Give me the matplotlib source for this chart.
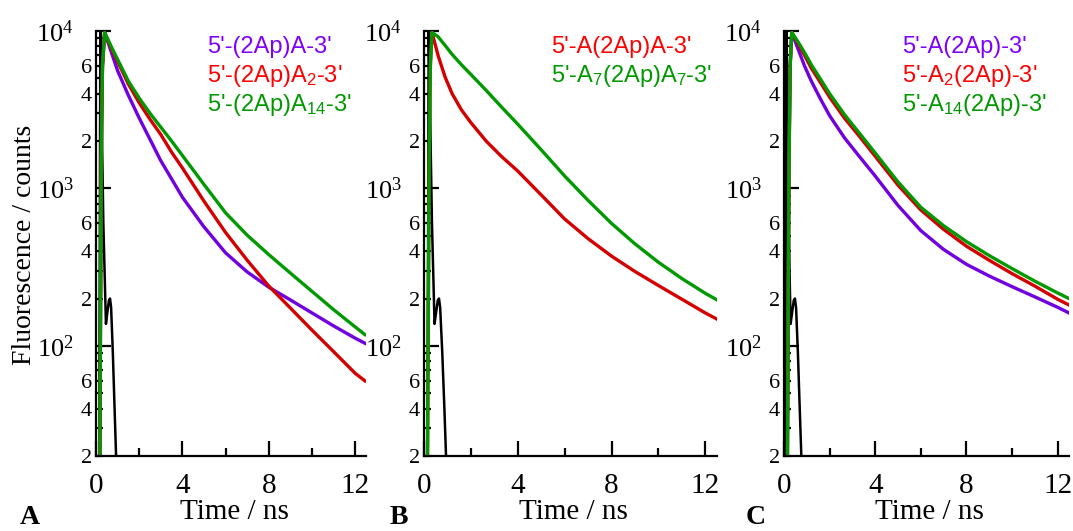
import numpy as np
import matplotlib.pyplot as plt
from matplotlib.ticker import FixedLocator, FixedFormatter

plt.rcParams['font.family'] = 'Liberation Serif'
plt.rcParams['mathtext.default'] = 'regular'

W, H = 1073, 531

# --- data (counts vs time in ns) ---
t_a = [0.18, 0.24, 0.3, 0.4, 0.7, 1.0, 1.5, 2, 2.5, 3, 3.5, 4, 5, 6, 7, 8, 9, 10, 11, 12, 12.45]
a_purple = [20, 1500, 6000, 9800, 7400, 5600, 3900, 2800, 2050, 1500, 1150, 880, 570, 390, 295, 236, 196, 162, 134, 112, 104]
a_red = [20, 1500, 6000, 9800, 7800, 6400, 4600, 3500, 2750, 2200, 1700, 1350, 830, 525, 350, 240, 174, 126, 92, 67, 60]
a_green = [20, 1500, 6000, 9800, 8000, 6600, 4800, 3750, 3000, 2450, 2000, 1620, 1060, 700, 505, 380, 290, 222, 170, 132, 118]

t_b = [0.15, 0.22, 0.27, 0.34, 0.6, 0.9, 1.2, 1.6, 2, 2.65, 3.3, 4, 5, 6, 7, 8, 9, 10, 11, 12, 12.5]
b_red = [20, 1500, 6000, 9800, 7000, 5100, 4000, 3150, 2620, 2000, 1600, 1290, 910, 640, 480, 372, 297, 242, 198, 162, 148]
b_green = [20, 1500, 6000, 9800, 9200, 8100, 7100, 6100, 5300, 4200, 3300, 2560, 1760, 1200, 840, 600, 445, 340, 268, 216, 196]

t_c = [0.15, 0.22, 0.27, 0.34, 0.6, 0.9, 1.2, 1.6, 2, 2.65, 3.3, 4, 5, 6, 7, 8, 9, 10, 11, 12, 12.5]
c_purple = [20, 1500, 6000, 9800, 7800, 6000, 4800, 3700, 2900, 2100, 1600, 1200, 780, 540, 410, 330, 278, 238, 205, 176, 162]
c_red = [20, 1500, 6000, 9800, 8400, 7000, 5800, 4700, 3800, 2800, 2150, 1600, 1050, 730, 550, 430, 350, 288, 240, 198, 182]
c_green = [20, 1500, 6000, 9800, 8600, 7300, 6100, 4950, 4000, 2950, 2250, 1680, 1100, 760, 580, 460, 375, 310, 258, 217, 200]

# instrument response
irf_v = [20, 10000, 3000, 600, 138, 165, 195, 200, 175, 90, 40, 20]
irf_t_a = [0.15, 0.2, 0.26, 0.34, 0.46, 0.53, 0.6, 0.65, 0.7, 0.78, 0.86, 0.93]
irf_t_b = [0.15, 0.2, 0.26, 0.34, 0.45, 0.52, 0.59, 0.64, 0.69, 0.78, 0.87, 0.94]
irf_t_c = [0.05, 0.1, 0.15, 0.2, 0.29, 0.36, 0.43, 0.48, 0.53, 0.61, 0.69, 0.76]

purple = '#7000e0'
red = '#d40000'
green = '#009a00'
txt_purple = '#7f00ff'
txt_red = '#ff0000'
txt_green = '#009900'

panels = [
    dict(box=(96, 270), irf=irf_t_a, t=t_a,
         series=[(a_purple, purple), (a_red, red), (a_green, green)],
         labels=[("5'-(2Ap)A-3'", txt_purple),
                 ("5'-(2Ap)A$_{2}$-3'", txt_red),
                 ("5'-(2Ap)A$_{14}$-3'", txt_green)],
         lx=207, letter='A', lpos=20),
    dict(box=(424, 293), irf=irf_t_b, t=t_b,
         series=[(b_red, red), (b_green, green)],
         labels=[("5'-A(2Ap)A-3'", txt_red),
                 ("5'-A$_{7}$(2Ap)A$_{7}$-3'", txt_green)],
         lx=551, letter='B', lpos=390),
    dict(box=(784, 285), irf=irf_t_c, t=t_c,
         series=[(c_purple, purple), (c_red, red), (c_green, green)],
         labels=[("5'-A(2Ap)-3'", txt_purple),
                 ("5'-A$_{2}$(2Ap)-3'", txt_red),
                 ("5'-A$_{14}$(2Ap)-3'", txt_green)],
         lx=902, letter='C', lpos=746),
]

fig = plt.figure(figsize=(W / 100, H / 100), dpi=100)
top, bot = 31, 456

major_y = [100, 1000, 10000]
major_lab = ['$10^{2}$', '$10^{3}$', '$10^{4}$']
minor_y = [m * d for d in (10, 100, 1000) for m in range(2, 10)]
minor_lab = [str(m) if m in (2, 4, 6) else '' for d in (10, 100, 1000) for m in range(2, 10)]

for i, p in enumerate(panels):
    x0, w = p['box']
    ax = fig.add_axes([x0 / W, 1 - bot / H, w / W, (bot - top) / H])
    ax.plot(p['irf'], irf_v, color='black', lw=1.8)
    for vals, col in p['series']:
        ax.plot(p['t'], vals, color=col, lw=2.4)
    ax.set_yscale('log')
    ax.set_ylim(20, 10000)
    ax.set_xlim(0, 12.5)
    for s in ('top', 'right'):
        ax.spines[s].set_visible(False)
    for s in ('left', 'bottom'):
        ax.spines[s].set_linewidth(1.6)

    ax.yaxis.set_major_locator(FixedLocator(major_y))
    ax.yaxis.set_major_formatter(FixedFormatter(major_lab))
    ax.yaxis.set_minor_locator(FixedLocator(minor_y))
    ax.yaxis.set_minor_formatter(FixedFormatter(minor_lab))
    ax.tick_params(axis='y', which='major', direction='in', length=11, width=1.6,
                   labelsize=19, pad=16)
    ax.tick_params(axis='y', which='minor', direction='in', length=5, width=1.6,
                   labelsize=16, pad=3)

    ax.set_xticks([0, 4, 8, 12])
    ax.set_xticks([2, 6, 10], minor=True)
    ax.tick_params(axis='x', which='major', direction='in', length=11, width=1.6,
                   labelsize=21, pad=12)
    ax.tick_params(axis='x', which='minor', direction='in', length=6, width=1.6)

    for k, (s, c) in enumerate(p['labels']):
        fig.text(p['lx'] / W, 1 - (47 + 29 * k) / H, s, color=c, fontsize=17,
                 family='Liberation Sans', va='center', ha='left')

    fig.text((x0 + w / 2 + 3) / W, 1 - 512 / H, 'Time / ns', fontsize=21,
             ha='center', va='center')
    fig.text(p['lpos'] / W, 1 - 518 / H, p['letter'], fontsize=20,
             fontweight='bold', ha='left', va='center')

fig.text(25 / W, 1 - 245 / H, 'Fluorescence / counts', fontsize=20,
         rotation=90, ha='center', va='center')

fig.savefig('out.png', dpi=100)
